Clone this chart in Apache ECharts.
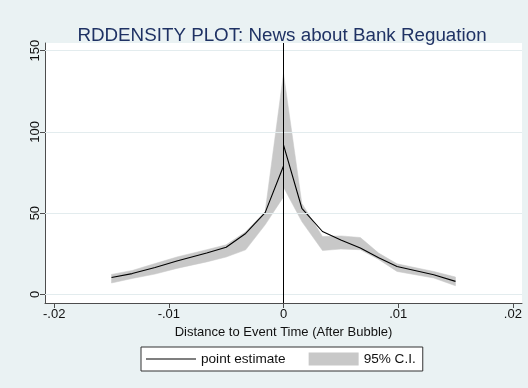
<!DOCTYPE html>
<html>
<head>
<meta charset="utf-8">
<script src="https://cdn.jsdelivr.net/npm/echarts@6/dist/echarts.min.js"></script>
<style>
  html, body { margin: 0; padding: 0; background: #EAF2F3; }
  #chart { width: 528px; height: 388px; }
</style>
</head>
<body>
<div id="chart"></div>
<script>
// Density estimate left of the cutoff (x = 0)
const leftX   = [-0.015, -0.0132, -0.0112, -0.0093, -0.0067, -0.0050, -0.0033, -0.0016, 0];
const leftEst = [10.4, 12.8, 16.5, 20.5, 25.5, 29.0, 37.5, 50.3, 79.0];
const leftLo  = [7.0, 9.8, 12.5, 16.0, 20.0, 23.0, 27.4, 42.8, 60.0];
const leftHi  = [12.3, 14.7, 19.0, 23.0, 27.5, 30.5, 38.5, 51.0, 136.0];

// Density estimate right of the cutoff
const rightX   = [0, 0.0016, 0.0034, 0.0050, 0.0067, 0.0083, 0.0099, 0.0131, 0.0150];
const rightEst = [92.0, 53.0, 38.7, 33.5, 28.5, 22.5, 17.2, 12.1, 8.0];
const rightLo  = [66.0, 44.8, 27.0, 27.9, 27.5, 21.5, 14.1, 10.1, 5.3];
const rightHi  = [136.0, 56.0, 35.6, 36.0, 35.0, 25.4, 18.8, 14.1, 10.7];

// Axis ticks
const xTicks = [-0.02, -0.01, 0, 0.01, 0.02];
const xTickLabels = ['-.02', '-.01', '0', '.01', '.02'];
const yTicks = [0, 50, 100, 150];
const yTickLabels = ['0', '50', '100', '150'];

const titleText = 'RDDENSITY PLOT: News about Bank Reguation';
const xTitle = 'Distance to Event Time (After Bubble)';
const estName = 'point estimate';
const ciName = '95% C.I.';

const bandColor = '#C8C8C8';
const axisColor = '#4d4d4d';
const fontFam = 'Liberation Sans, Arial, sans-serif';

const bands = [
  { x: leftX, lo: leftLo, hi: leftHi },
  { x: rightX, lo: rightLo, hi: rightHi }
];

function zipXY(xs, ys) { return xs.map((x, i) => [x, ys[i]]); }

const chart = echarts.init(document.getElementById('chart'), null, { renderer: 'canvas' });

chart.setOption({
  animation: false,
  backgroundColor: '#EAF2F3',
  textStyle: { fontFamily: fontFam },
  title: {
    text: titleText,
    left: 277,
    textAlign: 'center',
    top: 21,
    textStyle: { color: '#1F3264', fontSize: 18.8, fontWeight: 'normal', fontFamily: fontFam }
  },
  grid: {
    left: 45, top: 43, right: 6, bottom: 85,
    show: true, backgroundColor: '#FFFFFF', borderWidth: 0
  },
  xAxis: {
    type: 'value',
    min: -0.0208, max: 0.0208,
    axisLine: { show: true, onZero: false, lineStyle: { color: axisColor, width: 1 } },
    axisTick: { show: true, length: 5, customValues: xTicks, lineStyle: { color: axisColor } },
    axisLabel: {
      customValues: xTicks, margin: 5, color: '#111', fontSize: 13, fontFamily: fontFam,
      formatter: v => {
        const i = xTicks.findIndex(t => Math.abs(t - v) < 1e-9);
        return i >= 0 ? xTickLabels[i] : '';
      }
    },
    splitLine: { show: false },
    name: xTitle,
    nameLocation: 'middle',
    nameGap: 21,
    nameTextStyle: { color: '#111', fontSize: 13, fontFamily: fontFam, verticalAlign: 'top' }
  },
  yAxis: {
    type: 'value',
    min: -5.3, max: 154.7,
    axisLine: { show: true, onZero: false, lineStyle: { color: axisColor, width: 1 } },
    axisTick: { show: true, length: 5, customValues: yTicks, lineStyle: { color: axisColor } },
    axisLabel: {
      customValues: yTicks, rotate: 90, margin: 3, color: '#111', fontSize: 13, fontFamily: fontFam,
      formatter: v => {
        const i = yTicks.findIndex(t => Math.abs(t - v) < 1e-9);
        return i >= 0 ? yTickLabels[i] : '';
      }
    },
    splitLine: { show: false }
  },
  legend: {
    left: 141, top: 347,
    padding: [5, 7, 5, 5],
    backgroundColor: '#FFFFFF',
    borderColor: '#333',
    borderWidth: 1,
    borderRadius: 0,
    itemWidth: 50, itemHeight: 13,
    itemGap: 23,
    textStyle: { color: '#111', fontSize: 13.6, fontFamily: fontFam },
    data: [
      { name: estName, icon: 'path://M0,0 L50,0 L50,1 L0,1 Z' },
      { name: ciName, icon: 'rect' }
    ],
    selectedMode: false
  },
  series: [
    {
      // horizontal grid lines at the y ticks
      type: 'line', data: [], silent: true,
      markLine: {
        silent: true, symbol: 'none', label: { show: false },
        lineStyle: { color: '#E3ECEE', width: 1, type: 'solid' },
        data: yTicks.map(v => ({ yAxis: v }))
      }
    },
    {
      name: ciName,
      type: 'custom',
      itemStyle: { color: bandColor },
      data: bands.map((b, i) => [b.x[0], b.lo[0]]),
      encode: { x: 0, y: 1 },
      renderItem: (params, api) => {
        const b = bands[params.dataIndex];
        const pts = [];
        for (let i = 0; i < b.x.length; i++) pts.push(api.coord([b.x[i], b.hi[i]]));
        for (let i = b.x.length - 1; i >= 0; i--) pts.push(api.coord([b.x[i], b.lo[i]]));
        return {
          type: 'polygon',
          shape: { points: pts },
          style: { fill: bandColor, stroke: bandColor, lineWidth: 0.5 }
        };
      }
    },
    {
      name: estName,
      type: 'line',
      data: zipXY(leftX, leftEst),
      symbol: 'none',
      lineStyle: { color: '#000', width: 1.1 },
      itemStyle: { color: '#000' }
    },
    {
      name: estName,
      type: 'line',
      data: zipXY(rightX, rightEst),
      symbol: 'none',
      lineStyle: { color: '#000', width: 1.1 },
      itemStyle: { color: '#000' },
      markLine: {
        silent: true, symbol: 'none', label: { show: false },
        lineStyle: { color: '#000', width: 1, type: 'solid' },
        data: [{ xAxis: 0 }]
      }
    }
  ]
});
</script>
</body>
</html>
